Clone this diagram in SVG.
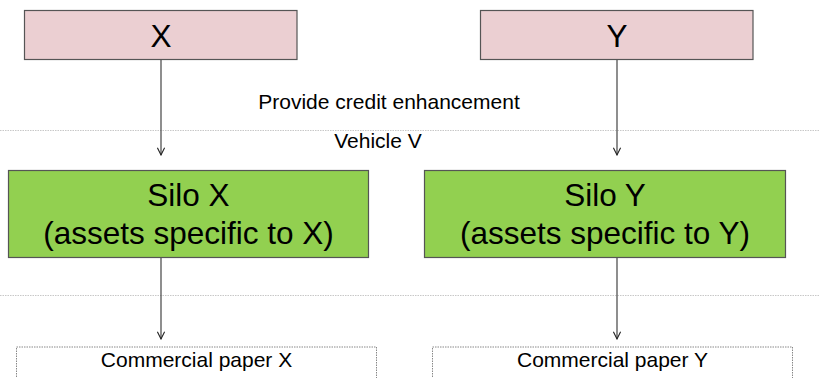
<svg xmlns="http://www.w3.org/2000/svg" width="820" height="378" viewBox="0 0 820 378">
  <defs>
    <marker id="vee" viewBox="0 0 10 10" refX="9" refY="5" markerWidth="9" markerHeight="9" markerUnits="userSpaceOnUse" orient="auto">
      <path d="M1,1 L9,5 L1,9" fill="none" stroke="#222" stroke-width="1.2"/>
    </marker>
  </defs>
  <style>
    text { font-family: "Liberation Sans", Arial, sans-serif; fill: #000; text-anchor: middle; }
    .party { fill: #ebcfd2; stroke: #555; stroke-width: 1.2; }
    .silo { fill: #92d050; stroke: #555; stroke-width: 1.2; }
    .paper { fill: #fff; stroke: #888; stroke-width: 1; stroke-dasharray: 1.5 1; }
    .sep { stroke: #c8c8c8; stroke-width: 1; stroke-dasharray: 1.5 1; }
    .big { font-size: 31.5px; }
    .small { font-size: 21px; }
    .link { stroke: #444; stroke-width: 1.2; fill: none; marker-end: url(#vee); }
  </style>

  <rect width="820" height="378" fill="#fff"/>

  <!-- vehicle boundary lines -->
  <line class="sep" x1="0" y1="130.5" x2="820" y2="130.5"/>
  <line class="sep" x1="0" y1="295.5" x2="820" y2="295.5"/>

  <text class="small" x="389" y="109">Provide credit enhancement</text>
  <text class="small" x="378" y="148">Vehicle V</text>

  <g id="party-x">
    <rect class="party" x="24.5" y="10.5" width="272.5" height="49"/>
    <text class="big" x="161" y="47">X</text>
  </g>
  <g id="party-y">
    <rect class="party" x="480.5" y="10.5" width="272.5" height="49"/>
    <text class="big" x="617" y="47">Y</text>
  </g>

  <g id="silo-x">
    <rect class="silo" x="8.5" y="170.5" width="360" height="87"/>
    <text class="big" x="188.5" y="206">Silo X</text>
    <text class="big" x="188.5" y="244">(assets specific to X)</text>
  </g>
  <g id="silo-y">
    <rect class="silo" x="424.5" y="170.5" width="361" height="87"/>
    <text class="big" x="605" y="206">Silo Y</text>
    <text class="big" x="605" y="244">(assets specific to Y)</text>
  </g>

  <g id="paper-x">
    <rect class="paper" x="16.5" y="347" width="360" height="40"/>
    <text class="small" x="196.5" y="367">Commercial paper X</text>
  </g>
  <g id="paper-y">
    <rect class="paper" x="432.5" y="347" width="360" height="40"/>
    <text class="small" x="612.5" y="367">Commercial paper Y</text>
  </g>

  <g id="connectors">
    <line class="link" x1="161" y1="60" x2="161" y2="155"/>
    <line class="link" x1="617" y1="60" x2="617" y2="155"/>
    <line class="link" x1="161" y1="258" x2="161" y2="339"/>
    <line class="link" x1="617" y1="258" x2="617" y2="339"/>
  </g>
</svg>
